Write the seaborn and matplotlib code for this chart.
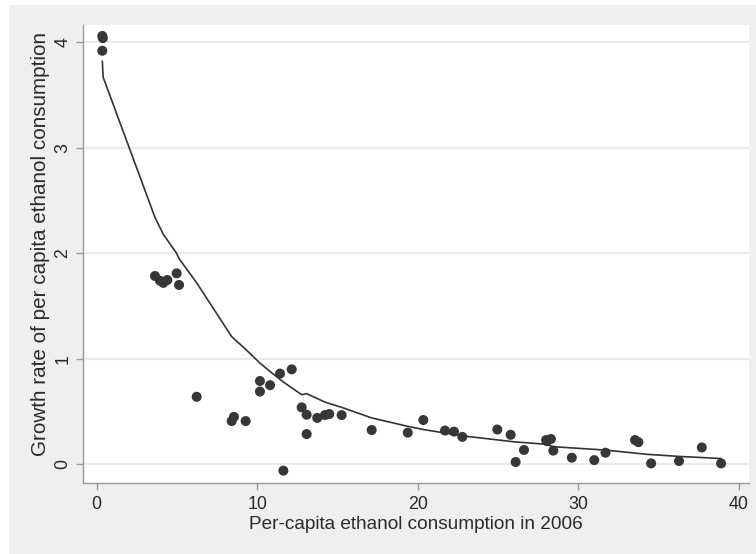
import matplotlib
matplotlib.use("Agg")
import matplotlib.pyplot as plt
from matplotlib.patches import Rectangle
import seaborn as sns
import pandas as pd

# Per-capita ethanol consumption in 2006 and its growth rate, one entry per region
consumption_2006 = [0.35, 0.38, 0.35, 3.63, 3.94, 4.15, 4.40, 4.98, 5.13, 6.23,
                    8.41, 8.55, 9.28, 10.17, 10.17, 10.80, 11.42, 12.15, 11.63,
                    12.77, 13.08, 13.08, 13.74, 14.22, 14.49, 15.26, 17.13, 19.38,
                    20.35, 21.70, 22.26, 22.78, 24.96, 25.79, 26.62, 26.10, 28.00,
                    28.30, 28.05, 28.45, 29.60, 31.00, 31.70, 33.54, 33.75, 34.54,
                    36.28, 37.70, 38.90]
growth_rate = [4.06, 4.04, 3.92, 1.785, 1.74, 1.72, 1.747, 1.81, 1.70, 0.64,
               0.41, 0.45, 0.41, 0.79, 0.69, 0.75, 0.86, 0.90, -0.06,
               0.54, 0.47, 0.287, 0.44, 0.467, 0.477, 0.467, 0.325, 0.30,
               0.42, 0.32, 0.31, 0.26, 0.33, 0.28, 0.136, 0.022, 0.23,
               0.24, 0.22, 0.13, 0.063, 0.04, 0.11, 0.23, 0.21, 0.009,
               0.031, 0.16, 0.009]

# Smoothed (lowess) fit of growth on consumption
fit_x = [0.35, 0.40, 3.63, 4.15, 4.98, 5.13, 6.23, 8.41, 9.28, 10.17, 10.80,
         11.63, 12.77, 13.08, 14.22, 15.26, 17.13, 19.38, 20.35, 22.78, 25.96,
         28.00, 28.45, 31.70, 34.27, 36.28, 38.90]
fit_y = [3.82, 3.67, 2.34, 2.18, 2.00, 1.95, 1.72, 1.21, 1.09, 0.96, 0.88,
         0.78, 0.66, 0.67, 0.59, 0.54, 0.44, 0.36, 0.33, 0.27, 0.214,
         0.19, 0.167, 0.135, 0.095, 0.075, 0.055]

x_ticks = [0, 10, 20, 30, 40]
y_ticks = [0, 1, 2, 3, 4]

points = pd.DataFrame({"x": consumption_2006, "y": growth_rate})
fit = pd.DataFrame({"x": fit_x, "y": fit_y})

sns.set_style("white")
plt.rcParams["font.family"] = ["Liberation Sans", "DejaVu Sans"]

W, H = 756, 554
fig = plt.figure(figsize=(W / 100, H / 100), dpi=100, facecolor="white")
fig.patches.append(Rectangle((9 / W, 0), 1, (H - 5) / H, transform=fig.transFigure,
                             facecolor="#efefef", edgecolor="none", zorder=-10))

ax = fig.add_axes([83 / W, 1 - 483 / H, (749 - 83) / W, (483 - 25) / H])
ax.set_facecolor("white")

sns.scatterplot(data=points, x="x", y="y", ax=ax, color="#373737", s=52,
                edgecolor="none", zorder=3, legend=False)
sns.lineplot(data=fit, x="x", y="y", ax=ax, color="#333333", linewidth=1.2,
             sort=False, estimator=None, zorder=4, legend=False)

ax.set_xlim(-0.854, 40.64)
ax.set_ylim(-0.177, 4.164)
ax.set_xticks(x_ticks)
ax.set_yticks(y_ticks)
ax.set_xticklabels([str(t) for t in x_ticks], fontsize=12.8, color="#2a2a2a")
ax.set_yticklabels([str(t) for t in y_ticks], fontsize=12.8, color="#2a2a2a",
                   rotation=90, va="center")

ax.yaxis.grid(True, color="#eaeaea", linewidth=1.5)
ax.xaxis.grid(False)
ax.set_axisbelow(True)

for side in ("top", "right"):
    ax.spines[side].set_visible(False)
for side in ("left", "bottom"):
    ax.spines[side].set_color("#9a9a9a")
    ax.spines[side].set_linewidth(1.0)

ax.tick_params(axis="both", which="major", direction="out", length=5,
               width=1.0, color="#9a9a9a", left=True, bottom=True)
ax.tick_params(axis="x", pad=4.5)
ax.tick_params(axis="y", pad=3.5)

ax.set_xlabel("Per-capita ethanol consumption in 2006", fontsize=13.7,
              color="#2a2a2a", labelpad=2)
ax.set_ylabel("Growth rate of per capita ethanol consumption", fontsize=14.9,
              color="#2a2a2a")
ax.yaxis.set_label_coords(-0.0495, 0.522)

fig.savefig("out.png", dpi=100, facecolor=fig.get_facecolor())
